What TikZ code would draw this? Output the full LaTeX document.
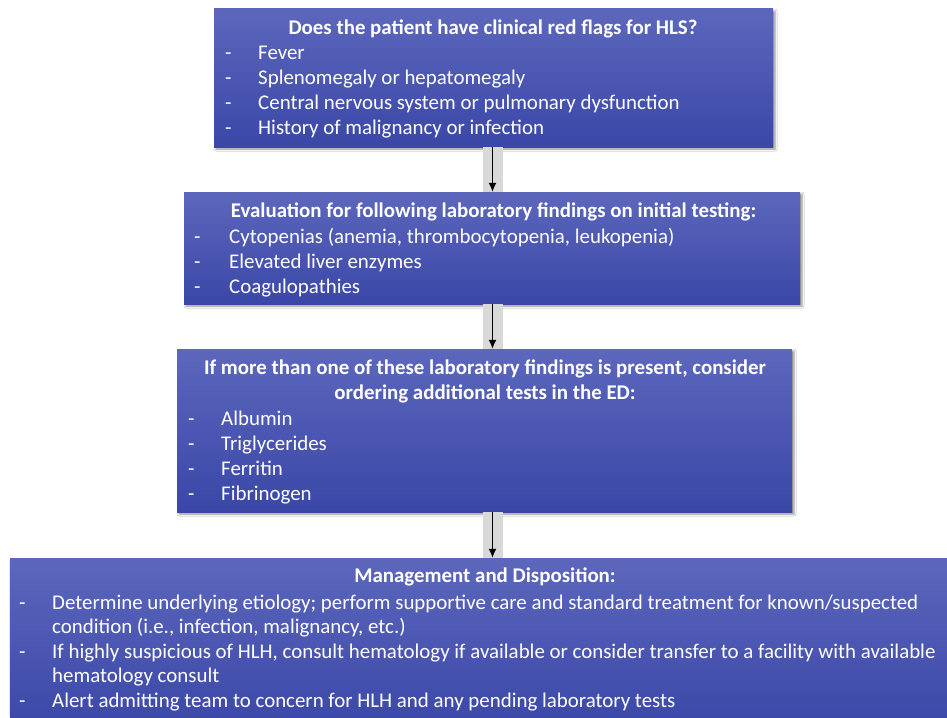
\documentclass[tikz,border=0pt]{standalone}
\usepackage{fontspec}
\setmainfont{Carlito}
\usetikzlibrary{arrows.meta,shadows.blur,calc}
\definecolor{btop}{HTML}{5C67BC}
\definecolor{bbot}{HTML}{3A47A7}
\definecolor{bandc}{HTML}{D9D9D9}
\newcommand\itm[5]{\node[txt] (#1d) at (#2,#4) {-}; \node[txt] (#1) at (#3,#4) {#5};}
\begin{document}
\begin{tikzpicture}[x=1pt,y=-1pt,
 box/.style={rectangle, inner sep=0pt, top color=btop, bottom color=bbot,
   blur shadow={shadow xshift=2pt,shadow yshift=-2pt,shadow blur radius=2pt,shadow opacity=45}},
 txt/.style={text=white, font=\fontsize{20.9}{25}\selectfont, inner sep=0pt, anchor=base west},
 ttl/.style={text=white, font=\bfseries\fontsize{20.9}{25}\selectfont, inner sep=0pt, anchor=base},
 arr/.style={line width=1.3pt, -{Latex[length=9pt,width=8pt]}},
 band/.style={fill=bandc}]
\useasboundingbox (0,0) rectangle (947,717);
\fill[white] (0,0) rectangle (947,717);
\coordinate (ax) at (492.5,0);

\node[box, minimum width=559pt, minimum height=138pt] (b1) at (493.5,78) {};
\node[box, minimum width=616pt, minimum height=112pt] (b2) at (492,248) {};
\node[box, minimum width=615pt, minimum height=163pt] (b3) at (484.5,430.5) {};
\node[box, minimum width=950pt, minimum height=172pt] (b4) at (485,644) {};

\fill[band] ($(b1.south -| ax)+(-10,0)$) rectangle ($(b2.north -| ax)+(10,0)$);
\fill[band] ($(b2.south -| ax)+(-10,0)$) rectangle ($(b3.north -| ax)+(10,0)$);
\fill[band] ($(b3.south -| ax)+(-10,0)$) rectangle ($(b4.north -| ax)+(10,0)$);
\draw[arr] (b1.south -| ax) -- (b2.north -| ax);
\draw[arr] (b2.south -| ax) -- (b3.north -| ax);
\draw[arr] (b3.south -| ax) -- (b4.north -| ax);

\node[ttl] (t1) at (493,34.5) {Does the patient have clinical red flags for HLS?};
\itm{a1}{225}{258}{59.5}{Fever}
\itm{a2}{225}{258}{84.5}{Splenomegaly or hepatomegaly}
\itm{a3}{225}{258}{109.5}{Central nervous system or pulmonary dysfunction}
\itm{a4}{225}{258}{134.5}{History of malignancy or infection}

\node[ttl] (t2) at (493.5,217.5) {Evaluation for following laboratory findings on initial testing:};
\itm{c1}{194}{229}{243}{Cytopenias (anemia, thrombocytopenia, leukopenia)}
\itm{c2}{194}{229}{268}{Elevated liver enzymes}
\itm{c3}{194}{229}{293}{Coagulopathies}

\node[ttl] (t3a) at (485,374.5) {If more than one of these laboratory findings is present, consider};
\node[ttl] (t3b) at (485,399.5) {ordering additional tests in the ED:};
\itm{e1}{188}{221}{425.5}{Albumin}
\itm{e2}{188}{221}{450.5}{Triglycerides}
\itm{e3}{188}{221}{475.5}{Ferritin}
\itm{e4}{188}{221}{500.5}{Fibrinogen}

\node[ttl] (t4) at (485,582.5) {Management and Disposition:};
\itm{g1}{19}{52}{609}{Determine underlying etiology; perform supportive care and standard treatment for known/suspected}
\node[txt] (g1b) at (52,633.5) {condition (i.e., infection, malignancy, etc.)};
\itm{g2}{19}{52}{658}{If highly suspicious of HLH, consult hematology if available or consider transfer to a facility with available}
\node[txt] (g2b) at (52,682.5) {hematology consult};
\itm{g3}{19}{52}{707}{Alert admitting team to concern for HLH and any pending laboratory tests}
\end{tikzpicture}
\end{document}
